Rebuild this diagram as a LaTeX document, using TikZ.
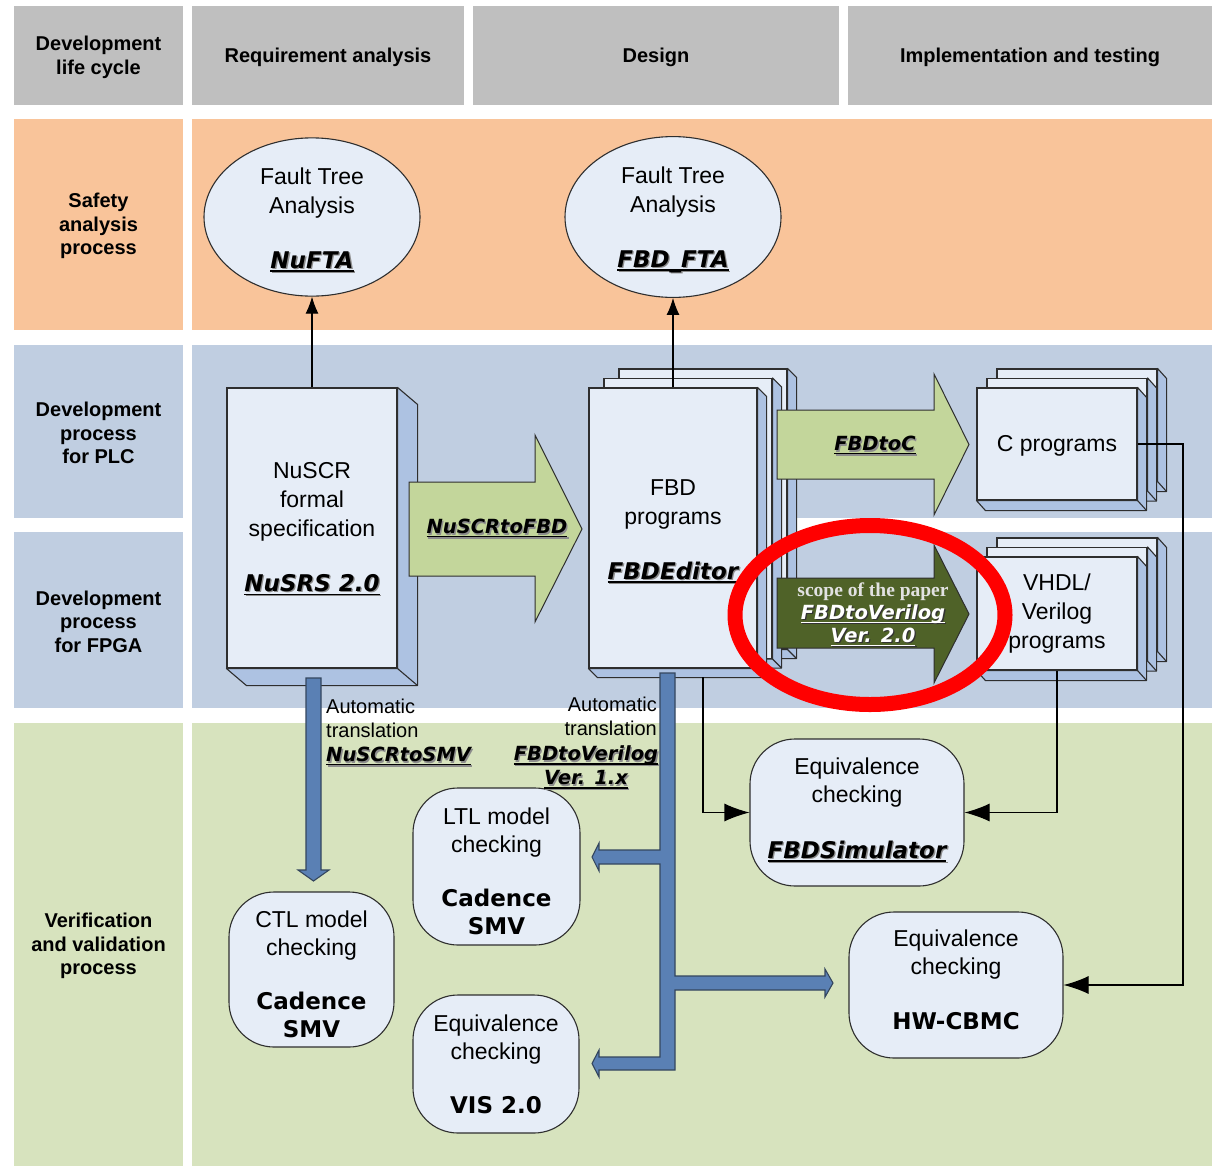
\documentclass[tikz,border=0pt]{standalone}
\usepackage{fontspec}
\setmainfont{Liberation Sans}
\newfontfamily\heavyfont{DejaVu Sans}
\newfontfamily\paperfont{Liberation Serif}
\usetikzlibrary{arrows.meta,calc,shapes.geometric}

\definecolor{hdrgray}{HTML}{BFBFBF}
\definecolor{safetyc}{HTML}{F9C49A}
\definecolor{devc}{HTML}{C0CEE1}
\definecolor{vvc}{HTML}{D7E3BE}
\definecolor{facec}{HTML}{E6EDF7}
\definecolor{sidec}{HTML}{ADC2E2}
\definecolor{edgec}{HTML}{2E2E2E}
\definecolor{lightarrow}{HTML}{C3D69B}
\definecolor{darkarrow}{HTML}{4F6228}
\definecolor{pipec}{HTML}{5A80B4}
\definecolor{pipeedge}{HTML}{34465E}
\definecolor{toolshadow}{HTML}{8C8C8C}
\definecolor{paperc}{HTML}{E2E2E2}
\definecolor{markred}{HTML}{FF0000}

% underlined word, rule drawn just below the baseline
\newcommand\ulbox[1]{\setbox0=\hbox{#1}\rlap{\rule[-3.6pt]{\wd0}{1.5pt}}\box0}
% tool name: heavy oblique, underlined, with a soft drop shadow
\newcommand\toolx[3]{{\heavyfont\bfseries\itshape\rlap{\kern1.3pt\raisebox{-1.3pt}{\color{#2}\ulbox{#3}}}{\color{#1}\ulbox{#3}}}}
\newcommand\tool[1]{\toolx{black}{toolshadow}{#1}}
\newcommand\heavy[1]{{\heavyfont\bfseries #1}}
% invisible struts that nudge a centred text block up or down
\newcommand\topstrut[1]{\rule{0pt}{#1}}
\newcommand\botstrut[1]{\rule[-#1]{0pt}{#1}}
% right and bottom faces of a slab whose front face is node #1
\newcommand\boxsides[3]{%
  \filldraw[fill=sidec, draw=edgec, line width=1.1pt, line join=round]
    (#1.north east) -- ++(#2,#3) -- ($(#1.south east)+(#2,#3)$)
    -- ($(#1.south west)+(#2,#3)$) -- (#1.south west) -- (#1.south east) -- cycle;
  \draw[edgec, line width=1.1pt] (#1.south east) -- ++(#2,#3);
}

\begin{document}
\begin{tikzpicture}[x=1pt,y=-1pt,
  band/.style={fill=#1, draw=none, inner sep=0pt, align=center,
    font=\bfseries\fontsize{20}{23.5}\selectfont},
  face/.style={rectangle, fill=facec, draw=edgec, line width=1.1pt, inner sep=0pt,
    align=center, font=\fontsize{23}{29}\selectfont},
  bubble/.style={ellipse, fill=facec, draw=edgec, line width=1.1pt, inner sep=0pt,
    minimum width=216pt, minimum height=154pt, align=center,
    font=\fontsize{23}{29}\selectfont},
  rbox/.style={rectangle, rounded corners=45pt, fill=facec, draw=edgec, line width=1.1pt,
    inner sep=0pt, align=center, font=\fontsize{23}{28.5}\selectfont},
  blockarrow/.style={draw=edgec, line width=1pt, line join=miter},
  pipe/.style={fill=pipec, draw=pipeedge, line width=1.1pt, line join=miter},
  arr/.style={-{Latex[length=25pt,width=18pt]}, line width=1.1pt, draw=black},
  uparr/.style={-{Latex[length=17pt,width=13pt]}, line width=1.1pt, draw=black},
  arrowlbl/.style={inner sep=0pt, align=center, font=\fontsize{19.5}{23}\selectfont},
  note/.style={inner sep=0pt, font=\fontsize{20}{24}\selectfont}
]
\fill[white] (0,0) rectangle (1212,1167);
\useasboundingbox (0,0) rectangle (1212,1167);

% ---------- header row ----------
\node[band=hdrgray, minimum width=169pt, minimum height=99pt] (hd-life) at (98.5,55.5) {\topstrut{18.5pt}Development\\life cycle};
\node[band=hdrgray, minimum width=272pt, minimum height=99pt] (hd-req) at (328,55.5) {\topstrut{18pt}Requirement analysis};
\node[band=hdrgray, minimum width=366pt, minimum height=99pt] (hd-design) at (656,55.5) {\topstrut{18pt}Design};
\node[band=hdrgray, minimum width=364pt, minimum height=99pt] (hd-impl) at (1030,55.5) {\topstrut{18pt}Implementation and testing};

% ---------- process rows ----------
\node[band=safetyc, minimum width=169pt, minimum height=211pt] (row-safety) at (98.5,224.5) {\topstrut{18pt}Safety\\analysis\\process};
\node[band=safetyc, minimum width=1020pt, minimum height=211pt] (lane-safety) at (702,224.5) {};
\node[band=devc, minimum width=169pt, minimum height=173pt] (row-plc) at (98.5,431.5) {\topstrut{18pt}Development\\process\\for PLC};
\node[band=devc, minimum width=1020pt, minimum height=173pt] (lane-plc) at (702,431.5) {};
\fill[devc] (192,517) rectangle (797,533);
\node[band=devc, minimum width=169pt, minimum height=176pt] (row-fpga) at (98.5,620) {\topstrut{18pt}Development\\process\\for FPGA};
\node[band=devc, minimum width=1020pt, minimum height=176pt] (lane-fpga) at (702,620) {};
\node[band=vvc, minimum width=169pt, minimum height=443pt] (row-vv) at (98.5,944.5) {\topstrut{18pt}Verification\\and validation\\process};
\node[band=vvc, minimum width=1020pt, minimum height=443pt] (lane-vv) at (702,944.5) {};

% ---------- fault tree analysis ----------
\node[bubble] (nufta) at (312,217) {\topstrut{23pt}Fault Tree\\Analysis\\[26pt]\tool{NuFTA}};
\node[bubble] (fbdfta) at (673,217) {\topstrut{23pt}Fault Tree\\Analysis\\[26pt]\tool{FBD\_FTA}};

% ---------- NuSCR specification ----------
\node[face, minimum width=170pt, minimum height=280pt] (nuscr) at (312,528)
  {\topstrut{19pt}NuSCR\\formal\\specification\\[26pt]\tool{NuSRS 2.0}};
\boxsides{nuscr}{20}{17}

% ---------- FBD programs (stack) ----------
\node[face, minimum width=168pt, minimum height=280pt] (fbd3) at (703,509) {};
\boxsides{fbd3}{9}{9}
\node[face, minimum width=168pt, minimum height=280pt] (fbd2) at (688,518.5) {};
\boxsides{fbd2}{9}{9}
\node[face, minimum width=168pt, minimum height=280pt] (fbd) at (673,528)
  {\topstrut{23pt}FBD\\programs\\[26pt]\tool{FBDEditor}};
\boxsides{fbd}{9}{9}

% ---------- C programs (stack) ----------
\node[face, minimum width=160pt, minimum height=112pt] (cprog3) at (1077,425) {};
\boxsides{cprog3}{9}{10}
\node[face, minimum width=160pt, minimum height=112pt] (cprog2) at (1067,434.5) {};
\boxsides{cprog2}{9}{10}
\node[face, minimum width=160pt, minimum height=112pt] (cprog) at (1057,444) {\topstrut{19pt}C programs};
\boxsides{cprog}{9}{10}

% ---------- VHDL / Verilog programs (stack) ----------
\node[face, minimum width=160pt, minimum height=113pt] (vhdl3) at (1077,594.5) {};
\boxsides{vhdl3}{9}{10}
\node[face, minimum width=160pt, minimum height=113pt] (vhdl2) at (1067,604) {};
\boxsides{vhdl2}{9}{10}
\node[face, minimum width=160pt, minimum height=113pt] (vhdl) at (1057,613.5)
  {\fontsize{23}{28}\selectfont VHDL/\\Verilog\\programs};
\boxsides{vhdl}{9}{10}

% ---------- translation block arrows ----------
\path[blockarrow, fill=lightarrow] (409,482) -- (535,482) -- (535,435) -- (582,529)
  -- (535,622) -- (535,576) -- (409,576) -- cycle;
\node[arrowlbl] (lbl-nuscrtofbd) at (497,529) {\tool{NuSCRtoFBD}};

\path[blockarrow, fill=lightarrow] (777,410) -- (934,410) -- (934,374) -- (969,444.5)
  -- (934,515) -- (934,479) -- (777,479) -- cycle;
\node[arrowlbl] (lbl-fbdtoc) at (875,446) {\tool{FBDtoC}};

\path[blockarrow, fill=darkarrow] (777,578) -- (934,578) -- (934,545) -- (969,614)
  -- (934,683) -- (934,648) -- (777,648) -- cycle;
\node[arrowlbl] (lbl-fbdtoverilog2) at (873,615)
  {{\paperfont\bfseries\color{paperc}scope of the paper}\\
   \toolx{white}{black!80}{FBDtoVerilog}\\\toolx{white}{black!80}{Ver. 2.0}};

% ---------- verification and validation tools ----------
\node[rbox, minimum width=165pt, minimum height=155pt] (ctl) at (311.5,969.5)
  {\topstrut{26pt}CTL model\\checking\\[25pt]\heavy{Cadence}\\\heavy{SMV}};
\node[rbox, minimum width=167pt, minimum height=157pt] (ltl) at (496.5,866.5)
  {\topstrut{26pt}LTL model\\checking\\[25pt]\heavy{Cadence}\\\heavy{SMV}};
\node[rbox, minimum width=166pt, minimum height=138pt] (vis) at (496,1064)
  {Equivalence\\checking\\[25pt]\heavy{VIS 2.0}};
\node[rbox, minimum width=214pt, minimum height=147pt] (fbdsim) at (857,812.5)
  {Equivalence\\checking\\[27pt]\tool{FBDSimulator}\botstrut{9pt}};
\node[rbox, minimum width=214pt, minimum height=146pt] (hwcbmc) at (956,985)
  {Equivalence\\checking\\[26pt]\heavy{HW-CBMC}\botstrut{11pt}};

% ---------- thin connectors ----------
\draw[uparr] (nuscr.north) -- (nufta.south);
\draw[uparr] (fbd.north) -- (fbdfta.south);
\coordinate (fbdout) at (703,677);
\draw[arr] (fbdout) |- (fbdsim.west);
\draw[arr] (vhdl.south) |- (fbdsim.east);
\coordinate (cturn) at (1183,444);
\draw[arr] (cprog.east) -- (cturn) |- (hwcbmc.east);

% ---------- automatic translation pipes ----------
\path[pipe] (306,678) -- (306,870) -- (298,870) -- (313.5,881) -- (329,870)
  -- (321,870) -- (321,678) -- cycle;
\path[pipe] (660,673) -- (660,850) -- (599,850) -- (599,843) -- (592,857) -- (599,871)
  -- (599,864) -- (660,864) -- (660,1057) -- (599,1057) -- (599,1050) -- (592,1063.5)
  -- (599,1077) -- (599,1070) -- (675,1070) -- (675,990) -- (825,990) -- (825,997)
  -- (833,983) -- (825,969) -- (825,976) -- (675,976) -- (675,673) -- cycle;

\node[note, anchor=west, align=left] (auto-l) at (326,718) {Automatic\\translation};
\node[arrowlbl, anchor=west] (lbl-nuscrtosmv) at (326,757) {\tool{NuSCRtoSMV}};
\node[note, anchor=east, align=right] (auto-r) at (657,716) {Automatic\\translation};
\node[arrowlbl, font=\fontsize{19.5}{24}\selectfont] (lbl-fbdtoverilog1) at (586,768)
  {\tool{FBDtoVerilog}\\\tool{Ver. 1.x}};

% ---------- highlight ----------
\draw[markred, line width=15pt] (870,615) ellipse [x radius=135pt, y radius=89.5pt];
\end{tikzpicture}
\end{document}
